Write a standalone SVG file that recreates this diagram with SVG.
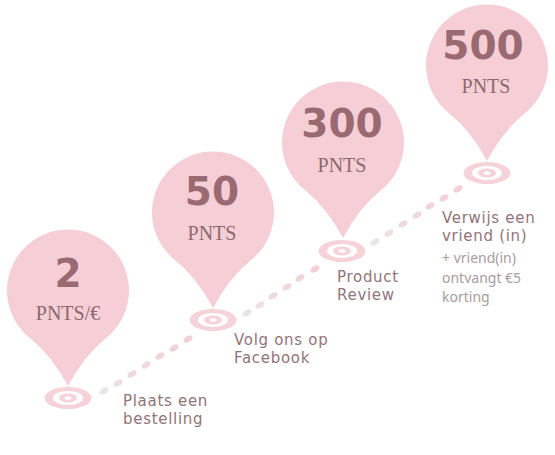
<svg xmlns="http://www.w3.org/2000/svg" width="555" height="455" viewBox="0 0 555 455">
<style>
.pin{fill:#f5cfd5}
.num{font-family:"DejaVu Sans",sans-serif;font-weight:bold;font-size:39px;fill:#9a6a73;text-anchor:middle}
.pnts{font-family:"Liberation Serif",serif;font-size:20px;fill:#8e6870;text-anchor:middle}
.lbl{font-family:"DejaVu Sans",sans-serif;font-size:15px;letter-spacing:0.7px;fill:#927479}
.sub{font-family:"Noto Sans",sans-serif;font-size:14px;fill:#aa9b9e}
.t1{fill:#f6d3d9}
.t2{fill:#ffffff}
</style>
<defs>
<g id="target">
<ellipse rx="23.5" ry="11" class="t1"/>
<ellipse rx="15" ry="7" class="t2"/>
<ellipse rx="9" ry="4.5" class="t1"/>
<ellipse rx="3.5" ry="1.8" class="t2"/>
</g>
<ellipse id="dot" rx="5" ry="3" transform="rotate(-32)"/>
</defs>
<g id="connectors">
<g>
<use href="#dot" x="104" y="391" fill="#ebe4e5"/>
<use href="#dot" x="118" y="383" fill="#ece0e2"/>
<use href="#dot" x="132" y="374" fill="#eddcdf"/>
<use href="#dot" x="146" y="365" fill="#eed9dd"/>
<use href="#dot" x="160" y="356" fill="#f0d6db"/>
<use href="#dot" x="174" y="348" fill="#f1d3d9"/>
<use href="#dot" x="188" y="339" fill="#f2d0d6"/>
</g>
<g>
<use href="#dot" x="247" y="313" fill="#ebe4e5"/>
<use href="#dot" x="260" y="305" fill="#ece0e2"/>
<use href="#dot" x="273" y="296" fill="#eddcdf"/>
<use href="#dot" x="287" y="287" fill="#eed9dd"/>
<use href="#dot" x="300" y="278" fill="#f0d6db"/>
<use href="#dot" x="315" y="269" fill="#f2d0d6"/>
</g>
<g>
<use href="#dot" x="375" y="242" fill="#ebe4e5"/>
<use href="#dot" x="389" y="233" fill="#ece0e2"/>
<use href="#dot" x="403" y="224" fill="#eddcdf"/>
<use href="#dot" x="417" y="215" fill="#eed9dd"/>
<use href="#dot" x="430" y="206" fill="#f0d6db"/>
<use href="#dot" x="444" y="198" fill="#f1d3d9"/>
<use href="#dot" x="458" y="189" fill="#f2d0d6"/>
</g>
</g>
<g id="node1">
<use href="#target" x="68" y="398"/>
<path class="pin" d="M31,339 A61,61 0 1 1 105,339 Q84,356 68,386 Q52,356 31,339 Z"/>
<text class="num" x="68" y="287">2</text>
<text class="pnts" x="68" y="320">PNTS/€</text>
<text class="lbl" x="123" y="406">Plaats een</text>
<text class="lbl" x="123" y="424">bestelling</text>
</g>
<g id="node2">
<use href="#target" x="213" y="320"/>
<path class="pin" d="M176,261 A61,61 0 1 1 250,261 Q229,278 213,308 Q197,278 176,261 Z"/>
<text class="num" x="212" y="205">50</text>
<text class="pnts" x="212" y="240">PNTS</text>
<text class="lbl" x="234" y="345">Volg ons op</text>
<text class="lbl" x="234" y="363">Facebook</text>
</g>
<g id="node3">
<use href="#target" x="342" y="251"/>
<path class="pin" d="M306,191 A61,61 0 1 1 380,191 Q359,208 343,238 Q327,208 306,191 Z"/>
<text class="num" x="342" y="137">300</text>
<text class="pnts" x="342" y="172">PNTS</text>
<text class="lbl" x="337" y="282">Product</text>
<text class="lbl" x="337" y="300">Review</text>
</g>
<g id="node4">
<use href="#target" x="487" y="173"/>
<path class="pin" d="M450,114 A61,61 0 1 1 524,114 Q503,131 487,161 Q471,131 450,114 Z"/>
<text class="num" x="483" y="59">500</text>
<text class="pnts" x="486" y="93">PNTS</text>
<text class="lbl" x="442" y="223">Verwijs een</text>
<text class="lbl" x="442" y="241">vriend (in)</text>
<text class="sub" x="442" y="263">+ vriend(in)</text>
<text class="sub" x="442" y="283">ontvangt €5</text>
<text class="sub" x="442" y="302">korting</text>
</g>
</svg>
